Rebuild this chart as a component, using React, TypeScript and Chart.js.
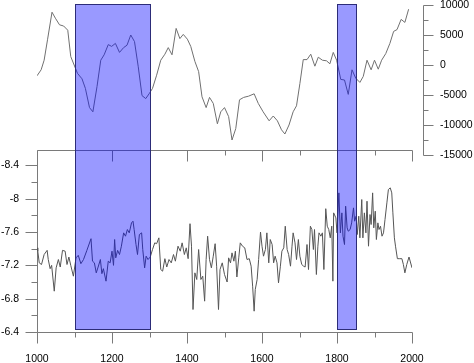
import React, { useEffect, useRef } from "react";
import { Chart, registerables } from "chart.js";

Chart.register(...registerables);

// Upper panel series (right axis)
const topYears = [
  1000, 1011, 1019, 1028, 1040, 1049, 1060, 1071, 1082, 1090, 1099, 1108, 1120, 1129, 1140, 1149,
  1160, 1170, 1179, 1190, 1199, 1209, 1220, 1231, 1240, 1250, 1260, 1270, 1280, 1290, 1300, 1308,
  1319, 1330, 1341, 1350, 1360, 1371, 1381, 1390, 1401, 1410, 1421, 1431, 1440, 1451, 1460, 1470,
  1481, 1490, 1500, 1511, 1520, 1530, 1540, 1551, 1564, 1579, 1590, 1603, 1619, 1630, 1641, 1652,
  1661, 1672, 1683, 1692, 1701, 1710, 1720, 1730, 1741, 1750, 1761, 1772, 1781, 1790, 1799, 1810,
  1820, 1830, 1840, 1850, 1861, 1870, 1880, 1891, 1900, 1910, 1919, 1930, 1941, 1951, 1960, 1971,
  1981, 1991,
];
const topValues = [
  -1800, -800, 800, 4200, 8800, 7800, 6700, 6500, 5800, 1400, 0, -1400, -2300, -3900, -7100, -7800,
  -3600, 800, 1700, 3400, 3100, 3600, 2100, 2900, 3300, 5000, 3900, -300, -5100, -5600, -4700, -3900,
  -1700, 800, 1800, 2900, 1700, 6100, 4400, 5100, 4300, 3100, 600, -1100, -5300, -7100, -5400, -6400,
  -9800, -7800, -7100, -8600, -12500, -10600, -5800, -5400, -5200, -4800, -6400, -7800, -9300, -8500, -9300, -10800,
  -11500, -10000, -7800, -6800, -3100, 900, 900, 1800, -200, 1300, 800, 700, 200, 2100, 800, -2400,
  -2500, -4900, -800, -2200, -2900, -1900, 800, -800, 800, -700, 800, 1900, 3600, 5600, 5900, 7600,
  7100, 9300,
];

// Lower panel series (left axis, inverted)
const lowYears = [
  1000, 1002, 1006, 1012, 1019, 1027, 1030, 1035, 1039, 1046, 1051, 1057, 1062, 1068, 1075, 1080,
  1085, 1090, 1097, 1104, 1110, 1117, 1124, 1133, 1144, 1148, 1153, 1158, 1163, 1169, 1173, 1177,
  1184, 1190, 1195, 1200, 1204, 1207, 1210, 1215, 1220, 1225, 1231, 1236, 1241, 1246, 1252, 1256,
  1259, 1264, 1268, 1273, 1279, 1282, 1287, 1291, 1296, 1302, 1308, 1314, 1319, 1325, 1330, 1335,
  1341, 1346, 1352, 1358, 1364, 1369, 1376, 1382, 1387, 1393, 1398, 1403, 1408, 1412, 1416, 1421,
  1426, 1431, 1437, 1442, 1447, 1451, 1455, 1460, 1465, 1470, 1475, 1479, 1484, 1488, 1494, 1500,
  1507, 1511, 1516, 1520, 1525, 1529, 1533, 1538, 1542, 1548, 1554, 1560, 1566, 1571, 1575, 1579,
  1582, 1587, 1591, 1596, 1600, 1604, 1609, 1613, 1618, 1622, 1627, 1631, 1635, 1640, 1644, 1649,
  1653, 1658, 1662, 1667, 1671, 1676, 1680, 1683, 1688, 1692, 1697, 1701, 1706, 1711, 1715, 1720,
  1724, 1729, 1733, 1737, 1740, 1745, 1749, 1752, 1757, 1761, 1765, 1770, 1774, 1778, 1782, 1786,
  1789, 1791, 1797, 1800, 1805, 1809, 1813, 1816, 1820, 1823, 1827, 1830, 1835, 1839, 1844, 1847,
  1851, 1854, 1858, 1861, 1866, 1869, 1873, 1877, 1880, 1884, 1888, 1891, 1895, 1898, 1902, 1905,
  1909, 1912, 1916, 1920, 1924, 1928, 1933, 1937, 1942, 1946, 1949, 1953, 1956, 1961, 1966, 1973,
  1977, 1981, 1986, 1992, 2000,
];
const lowValues = [
  -7.41, -7.37, -7.23, -7.21, -7.33, -7.38, -7.27, -7.16, -7.2, -6.89, -7.17, -7.27, -7.18, -7.38, -7.37, -7.21,
  -7.3, -7.2, -7.07, -7.29, -7.32, -7.22, -7.27, -7.38, -7.52, -7.25, -7.23, -7.11, -7.18, -7.27, -7.1, -7.16,
  -7.01, -7.25, -7.23, -7.37, -7.2, -7.51, -7.29, -7.38, -7.33, -7.43, -7.59, -7.55, -7.63, -7.59, -7.71, -7.73,
  -7.63, -7.45, -7.33, -7.57, -7.59, -7.39, -7.17, -7.31, -7.27, -7.3, -7.39, -7.47, -7.46, -7.53, -7.15, -7.13,
  -7.28, -7.18, -7.27, -7.23, -7.33, -7.25, -7.43, -7.37, -7.47, -7.33, -7.41, -7.28, -7.7, -7.43, -6.67, -7.11,
  -7.03, -7.39, -7.03, -7.07, -6.77, -7.27, -7.55, -7.27, -7.17, -7.31, -7.46, -7.19, -6.67, -7.15, -7.23, -7.09,
  -7.0, -7.29, -7.23, -7.35, -7.25, -7.37, -7.06, -7.29, -7.47, -7.43, -7.41, -7.27, -7.28, -7.19, -6.95, -6.65,
  -6.91, -7.03, -7.27, -7.6, -7.43, -7.31, -7.39, -7.59, -7.23, -7.51, -7.45, -7.23, -7.31, -7.23, -6.99, -7.19,
  -7.37, -7.41, -7.67, -7.39, -7.33, -7.19, -7.43, -7.59, -7.47, -7.27, -7.51, -7.31, -7.21, -7.19, -7.18, -7.45,
  -7.15, -7.67, -7.63, -7.39, -7.63, -7.09, -7.43, -7.59, -7.55, -7.59, -7.15, -7.88, -7.67, -7.63, -7.53, -7.67,
  -7.01, -7.83, -7.77, -7.59, -8.07, -7.59, -7.83, -7.55, -7.45, -7.91, -7.65, -7.61, -7.63, -7.71, -7.89, -7.73,
  -7.79, -7.57, -7.79, -7.53, -7.99, -7.53, -7.83, -7.59, -7.97, -7.43, -7.81, -7.69, -8.07, -7.65, -7.85, -7.51,
  -7.71, -7.63, -7.67, -7.55, -7.59, -7.75, -7.95, -8.11, -8.13, -8.07, -7.83, -7.53, -7.43, -7.28, -7.28, -7.28,
  -7.21, -7.11, -7.21, -7.3, -7.17,
];

// Tick labels
const xTickLabels = [1000, 1200, 1400, 1600, 1800, 2000];
const leftTickLabels = [-8.4, -8, -7.6, -7.2, -6.8, -6.4];
const rightTickLabels = [10000, 5000, 0, -5000, -10000, -15000];

// Highlighted periods
const bandStarts = [1100, 1800];
const bandEnds = [1300, 1850];

// Axis ranges
const X_MIN = 1000;
const X_MAX = 2000;
const LEFT_MIN = -10.337; // top of drawing area (reversed axis)
const LEFT_MAX = -6.4;
const RIGHT_MIN = -44500;
const RIGHT_MAX = 10167;
const LOWER_PANEL_TOP = -8.585; // value on the left axis where the lower frame starts
const BAND_TOP = 10150; // right-axis value
const BAND_BOTTOM = -6.44; // left-axis value

const AXIS_COLOR = "#7a7a7a";

const framePlugin = {
  id: "frame",
  beforeDatasetsDraw(chart: any) {
    const { ctx, scales } = chart;
    const x = scales.x;
    const yL = scales.yL;
    const yR = scales.yR;
    const px = (v: number) => Math.round(x.getPixelForValue(v)) + 0.5;
    const pyL = (v: number) => Math.round(yL.getPixelForValue(v)) + 0.5;
    const pyR = (v: number) => Math.round(yR.getPixelForValue(v)) + 0.5;
    const left = px(X_MIN);
    const right = px(X_MAX);
    const bottom = pyL(LEFT_MAX);
    const top = pyL(LOWER_PANEL_TOP);
    ctx.save();
    ctx.strokeStyle = AXIS_COLOR;
    ctx.lineWidth = 1;
    ctx.beginPath();
    ctx.moveTo(left, bottom);
    ctx.lineTo(right, bottom);
    ctx.moveTo(left, top);
    ctx.lineTo(right, top);
    ctx.moveTo(left, top);
    ctx.lineTo(left, bottom);
    for (let i = 0; i <= 10; i++) {
      const yr = X_MIN + i * 100;
      const len = i % 2 === 0 ? 11 : 5;
      const xx = px(yr);
      ctx.moveTo(xx, bottom);
      ctx.lineTo(xx, bottom + len);
      ctx.moveTo(xx, top);
      ctx.lineTo(xx, top + len);
    }
    for (let i = 0; i <= 10; i++) {
      const v = -8.4 + i * 0.2;
      const len = i % 2 === 0 ? 12 : 6;
      const yy = pyL(v);
      ctx.moveTo(left, yy);
      ctx.lineTo(left - len, yy);
    }
    // right axis of upper panel
    const rx = right + 11;
    ctx.moveTo(rx, pyR(10000));
    ctx.lineTo(rx, pyR(-15000));
    for (let i = 0; i <= 10; i++) {
      const v = 10000 - i * 2500;
      const len = i % 2 === 0 ? 10 : 5;
      const yy = pyR(v);
      ctx.moveTo(rx, yy);
      ctx.lineTo(rx + len, yy);
    }
    ctx.stroke();
    ctx.restore();
  },
  afterDatasetsDraw(chart: any) {
    const { ctx, scales } = chart;
    const x = scales.x;
    const yL = scales.yL;
    const yR = scales.yR;
    ctx.save();
    for (let i = 0; i < bandStarts.length; i++) {
      const x0 = Math.round(x.getPixelForValue(bandStarts[i])) + 0.5;
      const x1 = Math.round(x.getPixelForValue(bandEnds[i])) + 0.5;
      const y0 = Math.round(yR.getPixelForValue(BAND_TOP)) + 0.5;
      const y1 = Math.round(yL.getPixelForValue(BAND_BOTTOM)) + 0.5;
      ctx.fillStyle = "rgba(0,0,255,0.4)";
      ctx.fillRect(x0, y0, x1 - x0, y1 - y0);
      ctx.strokeStyle = "#2c2c78";
      ctx.lineWidth = 1;
      ctx.strokeRect(x0, y0, x1 - x0, y1 - y0);
    }
    ctx.restore();
  },
};

export default function App() {
  const canvasRef = useRef<HTMLCanvasElement | null>(null);

  useEffect(() => {
    if (!canvasRef.current) return;
    Chart.defaults.font.family = "'Liberation Sans', Arial, sans-serif";
    Chart.defaults.font.size = 10.5;
    Chart.defaults.color = "#000";

    const chart = new Chart(canvasRef.current, {
      type: "line",
      data: {
        datasets: [
          {
            label: "upper",
            data: topYears.map((yr, i) => ({ x: yr, y: topValues[i] })),
            yAxisID: "yR",
            borderColor: "#707070",
            borderWidth: 1,
            pointRadius: 0,
            tension: 0,
            fill: false,
          },
          {
            label: "lower",
            data: lowYears.map((yr, i) => ({ x: yr, y: lowValues[i] })),
            yAxisID: "yL",
            borderColor: "#555555",
            borderWidth: 1,
            pointRadius: 0,
            tension: 0,
            fill: false,
          },
        ],
      },
      options: {
        animation: false,
        responsive: true,
        maintainAspectRatio: false,
        layout: { padding: { top: 4, left: 0, right: 0, bottom: 0 } },
        plugins: { legend: { display: false }, tooltip: { enabled: false } },
        scales: {
          x: {
            type: "linear",
            position: "bottom",
            min: X_MIN,
            max: X_MAX,
            grid: { display: false, drawTicks: false },
            border: { display: false },
            ticks: {
              padding: 21,
              autoSkip: false,
              maxRotation: 0,
              color: "#000",
              callback: (v: any) => String(v),
            },
            afterBuildTicks: (s: any) => {
              s.ticks = xTickLabels.map((v) => ({ value: v }));
            },
            afterFit: (s: any) => {
              s.height = 31;
              s.paddingLeft = 0;
              s.paddingRight = 0;
            },
          },
          yL: {
            type: "linear",
            position: "left",
            reverse: true,
            min: LEFT_MIN,
            max: LEFT_MAX,
            grid: { display: false, drawTicks: false },
            border: { display: false },
            ticks: {
              padding: 18,
              autoSkip: false,
              color: "#000",
              callback: (v: any) => String(Math.round(Number(v) * 10) / 10),
            },
            afterBuildTicks: (s: any) => {
              s.ticks = leftTickLabels.map((v) => ({ value: v }));
            },
            afterFit: (s: any) => {
              s.width = 37;
              s.paddingTop = 0;
              s.paddingBottom = 0;
            },
          },
          yR: {
            type: "linear",
            position: "right",
            min: RIGHT_MIN,
            max: RIGHT_MAX,
            grid: { display: false, drawTicks: false },
            border: { display: false },
            ticks: {
              padding: 28,
              autoSkip: false,
              color: "#000",
              callback: (v: any) => String(v),
            },
            afterBuildTicks: (s: any) => {
              s.ticks = rightTickLabels.map((v) => ({ value: v }));
            },
            afterFit: (s: any) => {
              s.width = 62;
              s.paddingTop = 0;
              s.paddingBottom = 0;
            },
          },
        },
      },
      plugins: [framePlugin],
    });
    return () => chart.destroy();
  }, []);

  return (
    <div style={{ position: "absolute", left: 0, top: 0, width: 474, height: 363 }}>
      <canvas ref={canvasRef} />
    </div>
  );
}
